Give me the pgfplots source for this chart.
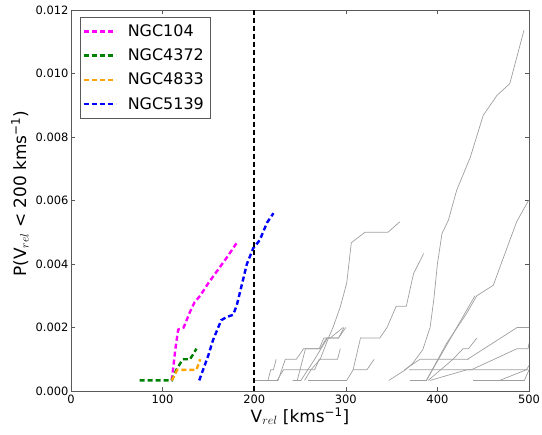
\documentclass[border=0pt]{standalone}
\usepackage{pgfplots}
\pgfplotsset{compat=1.18}
\usepackage{fontspec}
\setmainfont{DejaVu Sans}
\definecolor{mplorange}{HTML}{FFA500}
\definecolor{mplgreen}{HTML}{008000}
\definecolor{mplmagenta}{HTML}{FF00FF}
\definecolor{mplblue}{HTML}{0000FF}
\begin{document}
\begin{tikzpicture}
\useasboundingbox (-71bp,-44bp) rectangle (471bp,391bp);
\begin{axis}[
  at={(0,0)}, anchor=south west,
  scale only axis, width=458bp, height=381bp,
  xmin=0, xmax=500, ymin=0, ymax=0.012,
  xtick={0,100,200,300,400,500},
  ytick={0,0.002,0.004,0.006,0.008,0.010,0.012},
  scaled y ticks=false,
  yticklabel style={/pgf/number format/fixed,/pgf/number format/precision=3,/pgf/number format/fixed zerofill, xshift=1bp},
  /pgf/number format/assume math mode=true,
  tick label style={font=\fontsize{11.5}{13}\selectfont},
  tick align=inside, tick pos=both, major tick length=4bp,
  axis line style={gray!70!black, line width=0.8bp},
  every tick/.style={gray!70!black, line width=0.6bp},
  xlabel={V$_{rel}$ [kms\textsuperscript{−1}]},
  ylabel={P(V$_{rel}$ < 200 kms\textsuperscript{−1})},
  label style={font=\fontsize{17}{19}\selectfont},
  xlabel style={at={(axis description cs:0.5,0)}, anchor=north, yshift=-13bp},
  ylabel style={at={(axis description cs:0,0.518)}, anchor=center, yshift=51bp},
  clip=true,
  legend style={at={(axis description cs:0.0197,0.9816)}, anchor=north west, draw=gray!70!black, line width=0.8bp,
    font=\fontsize{16}{18}\selectfont, row sep=6.8bp, inner xsep=2bp, inner ysep=5.5bp,
    nodes={inner xsep=5bp}},
  legend cell align=left,
  legend image code/.code={\draw[#1] (0bp,0bp) -- (32bp,0bp); \path (38bp,0bp);},
  grey/.style={gray!75, line width=0.7bp, forget plot},
  cl/.style={line width=2.4bp, dash pattern=on 5bp off 3bp},
]
% grey lines
\addplot[grey] coordinates {(201,0.000333)(215,0.000333)(218,0.000667)(221,0.000667)(224,0.001)};
\addplot[grey] coordinates {(215,0.000333)(226,0.000333)(230,0.000667)(234,0.001)(246,0.001)(254,0.001333)(272,0.001333)(279,0.001667)(292,0.001667)(298,0.002)};
\addplot[grey] coordinates {(225,0.000333)(232,0.000667)(266,0.000667)(271,0.001)(291,0.001)(294,0.001333)};
\addplot[grey] coordinates {(242,0.000333)(247,0.000333)(256,0.001333)(271,0.001333)(276,0.001667)(283,0.001667)(297,0.002)};
\addplot[grey] coordinates {(247,0.000333)(251,0.000333)(266,0.001)(280,0.001667)(292,0.001667)(300,0.002)};
\addplot[grey] coordinates {(259,0.000333)(301,0.000333)(308,0.000667)(316,0.001667)(337,0.001667)(345,0.002)(355,0.002667)(366,0.002667)(374,0.0037)(385,0.00433)};
\addplot[grey] coordinates {(308,0.000667)(323,0.000667)(331,0.001)};
\addplot[grey] coordinates {(255,0.000333)(262,0.000667)(272,0.001)(281,0.001667)(286,0.002)(294,0.00265)(301,0.0034)(306,0.00467)(321,0.005)(346,0.005)(359,0.00533)};
\addplot[grey] coordinates {(347,0.000333)(365,0.000667)(373,0.00087)(384,0.0013)(392,0.002)(396,0.00286)(400,0.004)(405,0.00496)(412,0.00538)(421,0.00632)(436,0.00737)(450,0.00868)(465,0.00931)(479,0.00968)(494.5,0.01136)};
\addplot[grey] coordinates {(388,0.000333)(410,0.0015)(432,0.00245)(443,0.003)(461,0.00333)(486.5,0.00533)(499.5,0.006)};
\addplot[grey] coordinates {(370,0.000333)(388,0.000333)(441,0.003)};
\addplot[grey] coordinates {(390,0.000333)(417,0.001)(428,0.001333)(434,0.001333)(443,0.001667)};
\addplot[grey] coordinates {(392,0.000333)(432,0.000667)(499,0.000667)};
\addplot[grey] coordinates {(364,0.000667)(381,0.001)(434,0.001)};
\addplot[grey] coordinates {(369,0.000667)(437,0.000667)(487,0.001333)(499,0.001333)(500,0.0015)};
\addplot[grey] coordinates {(433,0.001)(487,0.002)(500,0.002)};
\addplot[grey] coordinates {(439,0.000333)(495,0.000333)(500,0.000667)};
\addplot[grey] coordinates {(468,0.000333)(497,0.000667)(500,0.0008)};
% coloured
\addplot[cl, mplmagenta] coordinates {(110,0.000333)(114,0.001333)(117,0.001933)(123,0.002)(130,0.0025)(135,0.0028)(141,0.003)(150,0.0034)(160,0.0038)(170,0.0042)(181,0.004667)};
\addlegendentry{NGC104}
\addplot[cl, mplgreen] coordinates {(75,0.000333)(110,0.000333)(115,0.000667)(122,0.001)(130,0.001)(137,0.001333)};
\addlegendentry{NGC4372}
\addplot[cl, mplorange] coordinates {(110,0.000333)(116,0.000667)(137,0.000667)(141,0.001)};
\addlegendentry{NGC4833}
\addplot[cl, mplblue] coordinates {(140,0.000333)(150,0.00113)(155,0.0016)(164,0.00223)(170,0.00233)(177,0.0024)(181,0.0027)(192,0.004)(199,0.0045)(206,0.00475)(214,0.0053)(221,0.0056)};
\addlegendentry{NGC5139}
\addplot[black, line width=2.4bp, dash pattern=on 5bp off 3bp, forget plot] coordinates {(200,0)(200,0.012)};
\end{axis}
\end{tikzpicture}
\end{document}
